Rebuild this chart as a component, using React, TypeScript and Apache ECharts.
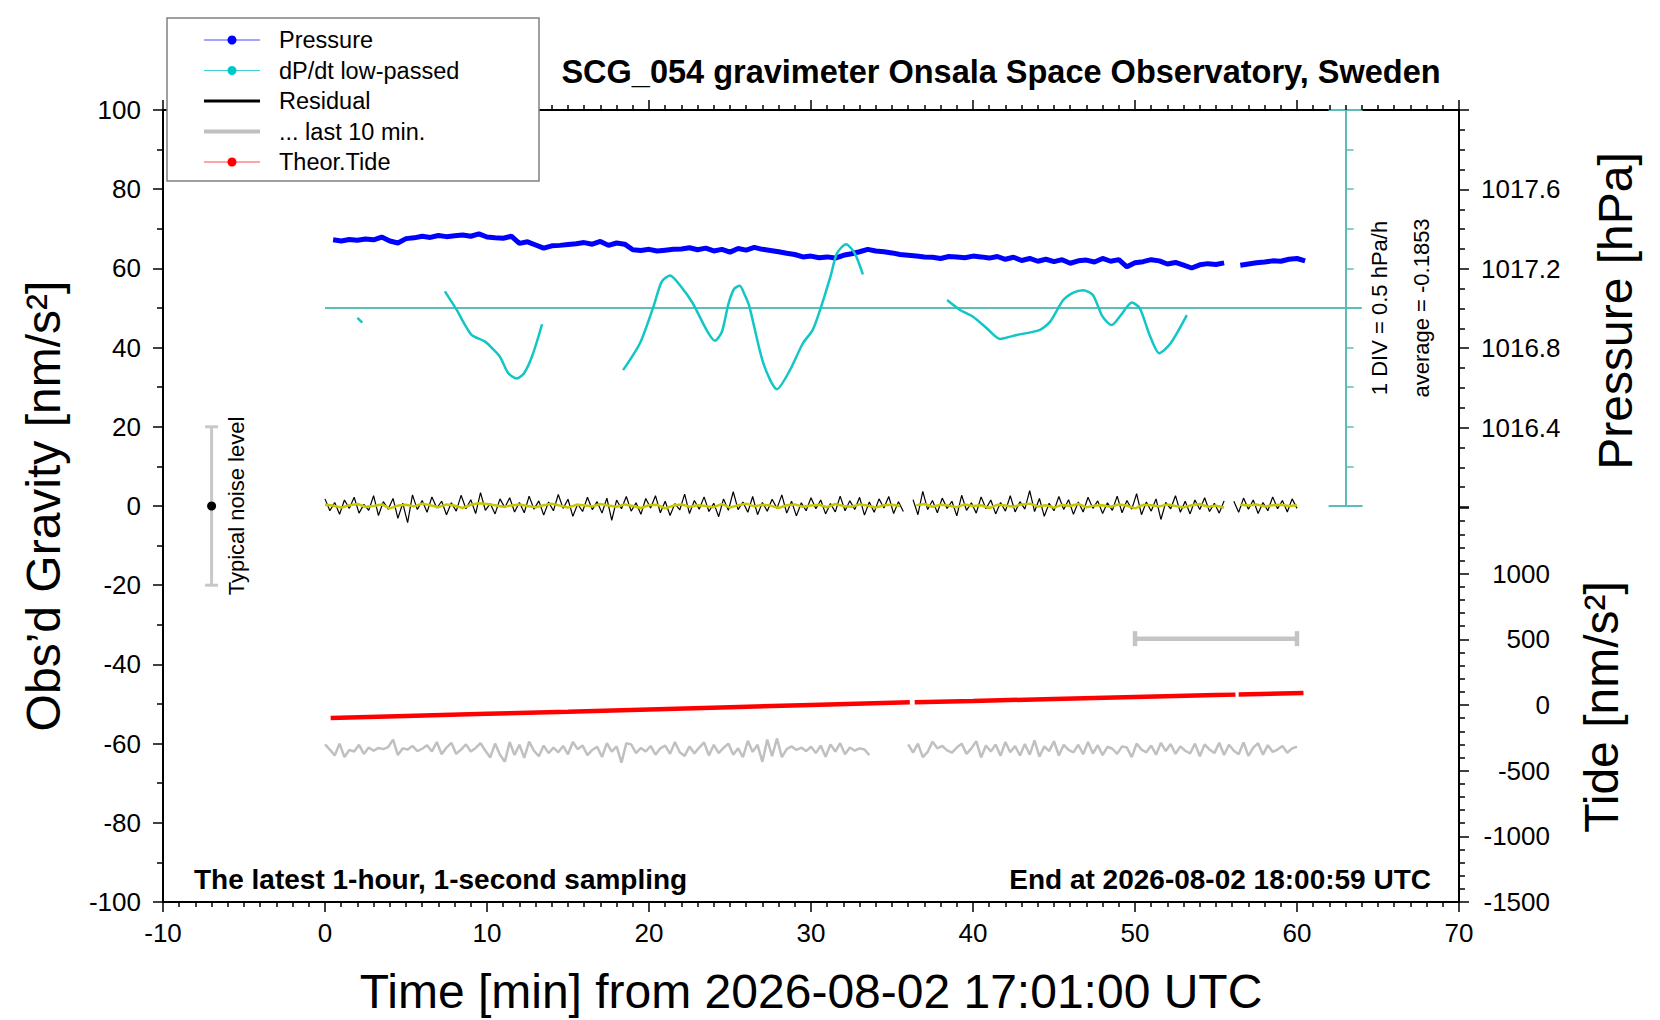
import { useEffect, useRef } from "react";
import * as echarts from "echarts";

const F = '"Liberation Sans", Arial, Helvetica, sans-serif';

// axis ranges
const X_RANGE = [-10, 70];
const GRAV_RANGE = [-100, 100];
const PRESS_RANGE = [1016, 1018];
const TIDE_RANGE = [-1500, 1500];
const DPDT_RANGE = [-7.5, 2.5]; // hPa/h on the gravity frame, zero sits at 50 nm/s2
const DPDT_DIV_RANGE = [-2.5, 2.5];

// Pressure [hPa], every 0.5 min from 0.5 min
const PRESSURE_T0 = 0.5;
const PRESSURE_DT = 0.5;
const PRESSURE = [
  1017.346, 1017.340, 1017.348, 1017.344, 1017.350, 1017.346, 1017.360, 1017.340, 1017.330, 1017.352,
  1017.356, 1017.364, 1017.358, 1017.368, 1017.362, 1017.366, 1017.370, 1017.364, 1017.376, 1017.360,
  1017.356, 1017.354, 1017.364, 1017.328, 1017.336, 1017.320, 1017.304, 1017.316, 1017.318, 1017.322,
  1017.326, 1017.332, 1017.324, 1017.338, 1017.318, 1017.330, 1017.324, 1017.296, 1017.292, 1017.298,
  1017.290, 1017.294, 1017.298, 1017.300, 1017.306, 1017.296, 1017.304, 1017.290, 1017.298, 1017.284,
  1017.302, 1017.294, 1017.308, 1017.298, 1017.292, 1017.286, 1017.278, 1017.272, 1017.260, 1017.264,
  1017.256, 1017.260, 1017.254, 1017.268, 1017.276, 1017.286, 1017.298, 1017.290, 1017.286, 1017.280,
  1017.272, 1017.268, 1017.264, 1017.260, 1017.258, 1017.252, 1017.262, 1017.260, 1017.256, 1017.264,
  1017.260, 1017.254, 1017.262, 1017.248, 1017.258, 1017.242, 1017.252, 1017.238, 1017.248, 1017.236,
  1017.246, 1017.228, 1017.240, 1017.244, 1017.234, 1017.252, 1017.238, 1017.246, 1017.210, 1017.230,
  1017.236, 1017.246, 1017.240, 1017.224, 1017.232, 1017.218, 1017.204, 1017.220, 1017.226, 1017.222,
  1017.230, null, 1017.218, 1017.224, 1017.230, 1017.234, 1017.240, 1017.238, 1017.248, 1017.252,
  1017.240,
];

// dP/dt low-passed [hPa/h]
const DPDT_T = [
  2.0, 2.3, null,
  7.4, 8.13, 8.6, 9.05, 9.88, 10.3, 10.8, 11.3, 11.83, 12.3, 12.8, 13.4, null,
  18.4, 19.44, 20.27, 20.78, 21.3, 21.9, 22.7, 23.56, 24.07, 24.5, 24.9, 25.25, 25.6, 25.9, 26.2, 27.06, 27.9,
  28.7, 29.5, 30.1, 30.56, 31.2, 31.6, 32.16, 32.7, 33.2, null,
  38.4, 39.2, 40.0, 40.85, 41.67, 42.7, 44.1, 44.75, 45.57, 46.2, 46.8, 47.4, 48.0, 48.56, 49.2,
  49.8, 50.3, 50.9, 51.5, 52.2, 53.2,
];
const DPDT_V = [
  -0.125, -0.185, null,
  0.21, -0.025, -0.2, -0.34, -0.425, -0.505, -0.615, -0.82, -0.89, -0.82, -0.6, -0.205, null,
  -0.785, -0.445, 0.015, 0.33, 0.41, 0.29, 0.06, -0.28, -0.415, -0.3, 0.05, 0.24, 0.28, 0.17, 0.015, -0.7, -1.025,
  -0.785, -0.445, -0.28, -0.025, 0.395, 0.69, 0.805, 0.69, 0.425, null,
  0.1, -0.025, -0.11, -0.255, -0.39, -0.34, -0.28, -0.175, 0.1, 0.195, 0.225, 0.165, -0.11, -0.215, -0.07,
  0.07, -0.005, -0.34, -0.57, -0.445, -0.09,
];
const DPDT_ZERO_T = [0, 64];

// Residual [nm/s2], every 0.3 min
const RESIDUAL_DT = 0.3;
const RESIDUAL = [
  1.8, -1.2, 0.9, -2.1, 1.5, -0.6, 2.2, -1.8, 0.4, -1.1, 2.6, -2.4, 1.1, -0.8, 1.9, -3.1, 0.7, -4.2, 2.8, -0.9,
  1.4, -1.6, 2.3, -0.5, 1.2, -2.2, 0.8, -1.3, 2.7, -0.7, 1.6, -1.9, 3.4, -1.1, 0.6, -2.0, 1.8, -0.4, 2.1, -1.5,
  0.9, -1.7, 2.5, -0.8, 1.3, -2.3, 1.0, -1.2, 2.9, -0.6, 1.7, -2.6, 0.5, -1.4, 2.2, -0.9, 1.1, -1.8, 2.0, -3.6,
  1.5, -0.7, 2.4, -1.3, 0.8, -2.1, 1.9, -0.5, 2.6, -1.7, 1.2, -2.4, 0.6, -1.0, 3.0, -1.9, 1.4, -0.8, 2.3, -1.4,
  0.7, -2.7, 1.8, -1.1, 3.6, -0.9, 1.0, -1.6, 2.4, -2.2, 0.9, -1.3, 1.7, -0.6, 2.8, -1.8, 1.2, -2.5, 0.8, -1.2,
  2.1, -0.7, 1.5, -2.0, 0.6, -1.5, 2.5, -1.2, 1.3, -0.9, 2.2, -2.3, 1.0, -1.6, 1.8, -0.5, 2.4, -1.9, 1.1, -1.4,
  null,
  1.6, -2.2, 3.7, -0.9, 1.4, -1.7, 2.0, -0.6, 1.2, -2.5, 2.7, -1.1, 0.8, -1.8, 2.3, -0.7, 1.5, -2.0, 0.9, -1.3,
  2.6, -1.5, 1.1, -0.8, 3.9, -1.4, 1.9, -2.6, 0.7, -1.2, 2.4, -0.9, 1.6, -2.1, 1.0, -1.5, 2.2, -0.6, 1.3, -1.9,
  0.8, -1.1, 2.5, -1.7, 1.4, -0.8, 3.1, -2.2, 1.0, -1.3, 1.8, -3.4, 0.9, -0.7, 2.6, -1.6, 1.2, -2.0, 1.5, -0.9,
  2.1, -1.4, 0.7, -1.8, 1.3,
  null,
  1.2, -1.6, 2.0, -0.8, 1.5, -1.9, 0.9, -1.2, 2.3, -0.7, 1.4, -1.5, 1.8, -0.6,
];

// Residual, smoothed (yellow), every 0.5 min
const RESIDUAL_SMOOTH_DT = 0.5;
const RESIDUAL_SMOOTH = [
  0.3, 0.1, -0.4, 0.2, 0.5, -0.2, 0.0, 0.4, -0.6, 0.1,
  0.3, -0.1, 0.6, 0.2, -0.3, 0.4, 0.1, -0.5, 0.3, 0.7,
  0.5, 0.2, -0.2, 0.1, 0.4, 0.0, -0.3, 0.2, 0.6, 0.1,
  -0.4, 0.3, 0.2, -0.1, 0.5, 0.1, -0.2, 0.4, 0.0, -0.5,
  0.2, 0.3, -0.6, 0.1, 0.4, -0.2, 0.2, 0.0, -0.3, 0.5,
  -0.4, 0.2, 0.6, -0.1, 0.3, 0.1, -0.5, 0.2, 0.4, -0.2,
  0.1, 0.3, -0.3, 0.5, 0.0, -0.2, 0.4, 0.1, -0.4, 0.2,
  0.3, 0.0,
  null,
  0.2, 0.5, -0.2, 0.3, 0.1, -0.3, 0.4, 0.0, 0.2, -0.5,
  0.3, 0.1, -0.2, 0.4, 0.6, -0.1, 0.2, -0.4, 0.3, 0.0,
  0.5, -0.3, 0.1, 0.2, -0.2, 0.4, 0.1, -0.6, 0.3, 0.2,
  -0.1, 0.4, 0.0, -0.3, 0.2, 0.5, -0.2, 0.1, -0.4,
  null,
  0.3, 0.1, 0.4, -0.1, 0.2, 0.3, 0.0, 0.2,
];

// "... last 10 min." trace [nm/s2], every 0.3 min
const LAST10_DT = 0.3;
const LAST10 = [
  -60.2, -61.5, -63.0, -60.0, -63.4, -61.6, -62.0, -60.3, -62.6, -61.0, -61.8, -61.1, -61.4, -60.9, -59.0, -62.9, -61.2, -61.5, -60.6, -61.9,
  -61.3, -60.4, -62.0, -59.6, -62.7, -61.0, -59.8, -62.6, -61.5, -60.2, -62.0, -61.1, -59.9, -61.8, -63.5, -60.0, -62.8, -64.6, -59.6, -62.9,
  -60.3, -63.6, -59.5, -61.8, -63.2, -60.5, -62.4, -61.0, -62.2, -60.6, -62.7, -59.6, -61.4, -60.5, -62.9, -61.6, -60.8, -63.4, -59.9, -62.0,
  -60.7, -64.8, -59.9, -60.2, -62.4, -61.1, -62.0, -60.6, -62.8, -61.2, -60.5, -62.6, -59.6, -62.2, -63.1, -60.7, -62.5, -61.0, -59.7, -63.0,
  -60.3, -62.4, -61.1, -60.0, -62.8, -61.2, -63.4, -59.3, -62.1, -60.3, -64.6, -59.0, -63.2, -58.7, -63.4, -61.4, -60.7, -61.6, -61.0, -61.9,
  -60.8, -62.4, -60.5, -63.3, -60.2, -62.0, -59.9, -62.7, -61.0, -61.8, -61.2, -61.5, -62.9,
  null, null, null, null, null, null, null,
  -60.2, -62.3, -60.0, -63.4, -62.1, -59.5, -61.2, -60.6, -61.7, -62.3, -61.0, -60.0, -62.6, -61.2, -59.4, -63.5, -60.5, -62.0, -60.2, -63.1,
  -59.6, -62.2, -60.6, -63.0, -60.1, -62.8, -59.2, -63.3, -60.7, -61.9, -59.4, -63.0, -60.3, -61.6, -62.2, -60.3, -62.7, -59.6, -62.5, -60.4,
  -62.9, -60.8, -61.3, -62.6, -60.7, -61.0, -63.4, -60.0, -61.5, -62.2, -60.5, -62.8, -59.8, -61.9, -60.1, -62.6, -60.7, -61.8, -62.5, -60.0,
  -63.2, -60.2, -61.5, -62.4, -59.8, -62.9, -60.3, -61.8, -62.7, -59.7, -63.1, -61.0, -59.9, -62.8, -60.4, -62.1, -61.5, -60.6, -62.3, -61.2, -60.8,
];
const LAST10_SPAN = [50, 60];
const LAST10_LEVEL = -33.5;

// Theoretical tide [nm/s2]
const TIDE_T = [0.35, 5, 10, 15, 20, 25, 30, 36.1, null, 36.4, 40, 45, 50, 55, 56.2, null, 56.4, 60.4];
const TIDE_V = [-99, -84, -67, -51, -34, -17, 0, 20, null, 21, 31, 46, 61, 76, 79, null, 80, 91];

// Typical noise level bar
const NOISE_T = -7;
const NOISE_RANGE = [-20, 20];

const TITLE = "SCG_054 gravimeter Onsala Space Observatory, Sweden";
const NOTE_LEFT = "The latest 1-hour, 1-second sampling";
const NOTE_RIGHT = "End at 2026-08-02 18:00:59 UTC";
const X_NAME = "Time [min] from 2026-08-02 17:01:00 UTC";
const Y_NAME = "Obs’d Gravity [nm/s²]";
const P_NAME = "Pressure [hPa]";
const T_NAME = "Tide [nm/s²]";
const DIV_NOTE = "1 DIV = 0.5 hPa/h";
const AVG_NOTE = "average = -0.1853";
const NOISE_NOTE = "Typical noise level";

const LEGEND = [
  { name: "Pressure", line: "#4a4aff", width: 1.2, dot: "#0000ff" },
  { name: "dP/dt low-passed", line: "#40d0d0", width: 1.2, dot: "#00c8c8" },
  { name: "Residual", line: "#000000", width: 3, dot: null },
  { name: "... last 10 min.", line: "#c0c0c0", width: 4, dot: null },
  { name: "Theor.Tide", line: "#ff4a4a", width: 1.2, dot: "#ff0000" },
];

const stepData = (t0: number, dt: number, vals: (number | null)[]) =>
  vals.map((v, i) => [+(t0 + i * dt).toFixed(3), v === null ? "-" : v]);
const pairData = (ts: (number | null)[], vs: (number | null)[]) =>
  ts.map((t, i) => (t === null || vs[i] === null ? [ts[i - 1] ?? 0, "-"] : [t, vs[i]]));

const BLACK = { color: "#000", width: 2 };
const TICK = { color: "#000", width: 1.5 };
const TEAL_AXIS = "#5cbcb6";

export default function App() {
  const ref = useRef<HTMLDivElement>(null);

  useEffect(() => {
    if (!ref.current) return;
    const chart = echarts.init(ref.current, null, { renderer: "svg" });

    const label = { color: "#000", fontSize: 26, fontFamily: F };
    const hidden = { show: false };

    const legendEls: any[] = [
      { type: "rect", z: 100, shape: { x: 167, y: 18, width: 372, height: 163 }, style: { fill: "#fff", stroke: "#808080", lineWidth: 1.5 } },
    ];
    LEGEND.forEach((it, i) => {
      const y = 40 + i * 30.5;
      legendEls.push({ type: "line", z: 101, shape: { x1: 204, y1: y, x2: 260, y2: y }, style: { stroke: it.line, lineWidth: it.width } });
      if (it.dot) legendEls.push({ type: "circle", z: 102, shape: { cx: 232, cy: y, r: 4.5 }, style: { fill: it.dot } });
      legendEls.push({ type: "text", z: 102, x: 279, y, style: { text: it.name, font: `23.5px ${F}`, fill: "#000", align: "left", verticalAlign: "middle" } });
    });

    const txt = (text: string, x: number, y: number, font: string, align = "center", rotation = 0) => ({
      type: "text", z: 90, x, y, rotation, style: { text, font, fill: "#000", align, verticalAlign: "middle" },
    });

    chart.setOption({
      animation: false,
      backgroundColor: "#fff",
      textStyle: { fontFamily: F },
      grid: [
        { left: 163, top: 110, width: 1296, height: 792 },
        { left: 163, top: 110, width: 1296, height: 397 },
        { left: 163, top: 508, width: 1296, height: 394 },
        { left: 1329.4, top: 110, width: 32.4, height: 396 },
      ],
      xAxis: [
        {
          type: "value", gridIndex: 0, position: "bottom", min: X_RANGE[0], max: X_RANGE[1], interval: 10,
          axisLine: { show: true, onZero: false, lineStyle: BLACK },
          axisTick: { show: true, length: 10, lineStyle: TICK },
          minorTick: { show: true, splitNumber: 10, length: 5, lineStyle: TICK },
          axisLabel: { ...label, margin: 18 },
          splitLine: hidden,
        },
        {
          type: "value", gridIndex: 0, position: "top", min: X_RANGE[0], max: X_RANGE[1], interval: 10,
          axisLine: { show: true, onZero: false, lineStyle: BLACK },
          axisTick: { show: true, length: 10, lineStyle: TICK },
          minorTick: { show: true, splitNumber: 10, length: 5, lineStyle: TICK },
          axisLabel: hidden,
          splitLine: hidden,
        },
        { type: "value", gridIndex: 1, min: X_RANGE[0], max: X_RANGE[1], show: false },
        { type: "value", gridIndex: 2, min: X_RANGE[0], max: X_RANGE[1], show: false },
        {
          type: "value", gridIndex: 3, position: "bottom", min: 0, max: 1,
          axisLine: { show: true, onZero: false, lineStyle: { color: TEAL_AXIS, width: 2 } },
          axisTick: hidden, axisLabel: hidden, splitLine: hidden,
        },
        {
          type: "value", gridIndex: 3, position: "top", min: 0, max: 1,
          axisLine: { show: true, onZero: false, lineStyle: { color: TEAL_AXIS, width: 2 } },
          axisTick: hidden, axisLabel: hidden, splitLine: hidden,
        },
      ],
      yAxis: [
        {
          type: "value", gridIndex: 0, position: "left", min: GRAV_RANGE[0], max: GRAV_RANGE[1], interval: 20,
          axisLine: { show: true, onZero: false, lineStyle: BLACK },
          axisTick: { show: true, length: 10, lineStyle: TICK },
          minorTick: { show: true, splitNumber: 2, length: 6, lineStyle: TICK },
          axisLabel: { ...label, margin: 22 },
          splitLine: hidden,
        },
        {
          type: "value", gridIndex: 0, position: "right", min: GRAV_RANGE[0], max: GRAV_RANGE[1],
          axisLine: { show: true, onZero: false, lineStyle: BLACK },
          axisTick: hidden, axisLabel: hidden, splitLine: hidden,
        },
        { type: "value", gridIndex: 0, min: DPDT_RANGE[0], max: DPDT_RANGE[1], show: false, splitLine: hidden },
        {
          type: "value", gridIndex: 1, position: "right", min: PRESS_RANGE[0], max: PRESS_RANGE[1], interval: 0.4,
          axisLine: { show: true, onZero: false, lineStyle: BLACK },
          axisTick: { show: true, length: 10, lineStyle: TICK },
          minorTick: { show: true, splitNumber: 4, length: 6, lineStyle: TICK },
          axisLabel: {
            ...label, margin: 22,
            formatter: (v: number) => (v <= PRESS_RANGE[0] + 0.01 || v >= PRESS_RANGE[1] - 0.01 ? "" : v.toFixed(1)),
          },
          splitLine: hidden,
        },
        {
          type: "value", gridIndex: 2, position: "right", min: TIDE_RANGE[0], max: TIDE_RANGE[1], interval: 500,
          axisLine: { show: true, onZero: false, lineStyle: BLACK },
          axisTick: { show: true, length: 10, lineStyle: TICK },
          minorTick: { show: true, splitNumber: 5, length: 6, lineStyle: TICK },
          axisLabel: {
            ...label, margin: 91, align: "right",
            formatter: (v: number) => (v >= TIDE_RANGE[1] ? "" : String(v)),
          },
          splitLine: hidden,
        },
        {
          type: "value", gridIndex: 3, position: "left", offset: -16.2,
          min: DPDT_DIV_RANGE[0], max: DPDT_DIV_RANGE[1], interval: 0.5,
          axisLine: { show: true, onZero: false, lineStyle: { color: TEAL_AXIS, width: 2 } },
          axisTick: { show: true, inside: true, length: 8, lineStyle: { color: TEAL_AXIS, width: 1.5 } },
          axisLabel: hidden, splitLine: hidden,
        },
      ],
      series: [
        {
          name: "Pressure", type: "line", xAxisIndex: 2, yAxisIndex: 3, showSymbol: false, silent: true,
          lineStyle: { color: "#0000ff", width: 5 },
          data: stepData(PRESSURE_T0, PRESSURE_DT, PRESSURE),
        },
        {
          name: "dP/dt zero", type: "line", xAxisIndex: 0, yAxisIndex: 2, showSymbol: false, silent: true,
          lineStyle: { color: TEAL_AXIS, width: 2 },
          data: DPDT_ZERO_T.map((t) => [t, 0]),
        },
        {
          name: "dP/dt low-passed", type: "line", xAxisIndex: 0, yAxisIndex: 2, showSymbol: false, silent: true,
          smooth: 0.25, lineStyle: { color: "#12c6c6", width: 2.5 },
          data: pairData(DPDT_T, DPDT_V),
        },
        {
          name: "Residual", type: "line", xAxisIndex: 0, yAxisIndex: 0, showSymbol: false, silent: true,
          lineStyle: { color: "#000", width: 1.2 },
          data: stepData(0, RESIDUAL_DT, RESIDUAL),
        },
        {
          name: "Residual smooth", type: "line", xAxisIndex: 0, yAxisIndex: 0, showSymbol: false, silent: true,
          lineStyle: { color: "#c8c800", width: 2.5 },
          data: stepData(0, RESIDUAL_SMOOTH_DT, RESIDUAL_SMOOTH),
        },
        {
          name: "... last 10 min.", type: "line", xAxisIndex: 0, yAxisIndex: 0, showSymbol: false, silent: true,
          lineStyle: { color: "#c0c0c0", width: 2.5 },
          data: stepData(0, LAST10_DT, LAST10),
        },
        {
          name: "last 10 span", type: "line", xAxisIndex: 0, yAxisIndex: 0, silent: true,
          showSymbol: true, symbol: "rect", symbolSize: [4.5, 15],
          itemStyle: { color: "#c4c4c4" }, lineStyle: { color: "#c4c4c4", width: 4.5 },
          data: LAST10_SPAN.map((t) => [t, LAST10_LEVEL]),
        },
        {
          name: "Theor.Tide", type: "line", xAxisIndex: 3, yAxisIndex: 4, showSymbol: false, silent: true,
          lineStyle: { color: "#ff0000", width: 4.5 },
          data: pairData(TIDE_T, TIDE_V),
        },
        {
          name: "noise bar", type: "line", xAxisIndex: 0, yAxisIndex: 0, silent: true,
          showSymbol: true, symbol: "rect", symbolSize: [13, 3],
          itemStyle: { color: "#c8c8c8" }, lineStyle: { color: "#c8c8c8", width: 3 },
          data: NOISE_RANGE.map((v) => [NOISE_T, v]),
        },
        {
          name: "noise dot", type: "scatter", xAxisIndex: 0, yAxisIndex: 0, silent: true, z: 10,
          symbol: "circle", symbolSize: 9, itemStyle: { color: "#000", opacity: 1 },
          data: [[NOISE_T, 0]],
        },
      ],
      graphic: [
        txt(TITLE, 1001, 72, `bold 32.5px ${F}`),
        txt(NOTE_LEFT, 194, 879, `bold 28px ${F}`, "left"),
        txt(NOTE_RIGHT, 1431, 879, `bold 28px ${F}`, "right"),
        txt(X_NAME, 811, 991, `48px ${F}`),
        txt(Y_NAME, 43, 506, `48px ${F}`, "center", Math.PI / 2),
        txt(P_NAME, 1615, 311, `48px ${F}`, "center", Math.PI / 2),
        txt(T_NAME, 1601, 707, `48px ${F}`, "center", Math.PI / 2),
        txt(DIV_NOTE, 1379, 308, `22px ${F}`, "center", Math.PI / 2),
        txt(AVG_NOTE, 1421, 308, `22px ${F}`, "center", Math.PI / 2),
        txt(NOISE_NOTE, 236, 506, `22px ${F}`, "center", Math.PI / 2),
        ...legendEls,
      ],
    });

    return () => chart.dispose();
  }, []);

  return (
    <div
      ref={ref}
      style={{ position: "absolute", left: 0, top: 0, width: 1660, height: 1020, background: "#fff" }}
    />
  );
}
